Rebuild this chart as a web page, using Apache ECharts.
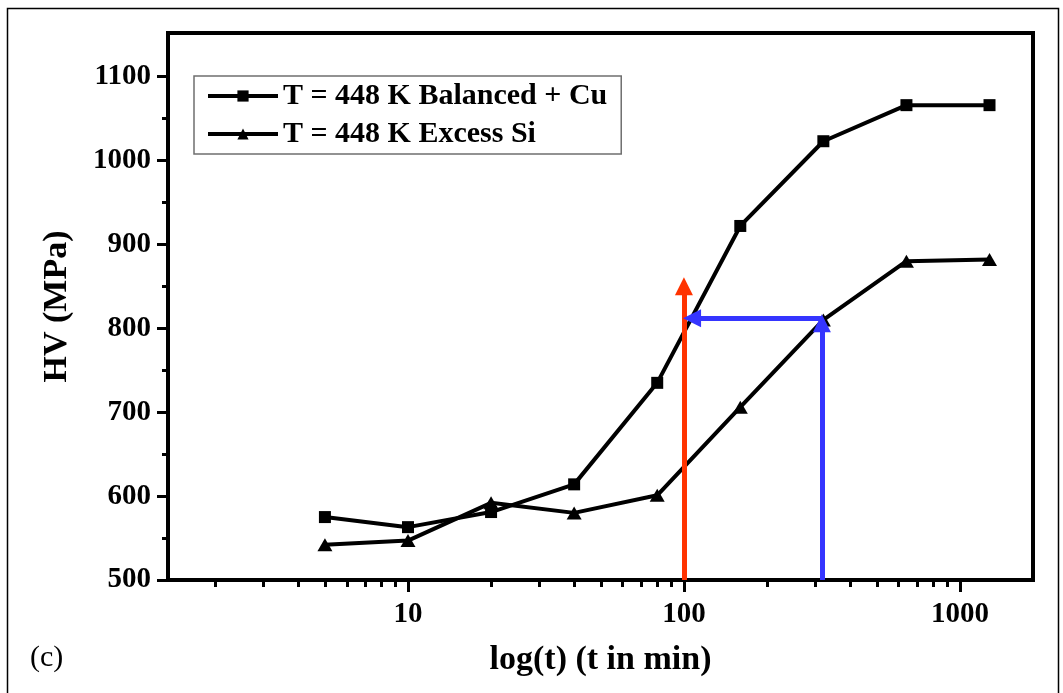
<!DOCTYPE html>
<html>
<head>
<meta charset="utf-8">
<script src="https://cdn.jsdelivr.net/npm/echarts@6/dist/echarts.min.js"></script>
<style>
html,body{margin:0;padding:0;background:#fff;}
#chart{width:1063px;height:693px;}
</style>
</head>
<body>
<div id="chart"></div>
<script>
// ---- data ----
const times = [5, 10, 20, 40, 80, 160, 320, 640, 1280];
const balancedCu = [575, 563, 581, 614, 735, 922, 1023, 1066, 1066];
const excessSi = [542, 547, 592, 580, 601, 706, 810, 880, 882];
const seriesNames = ['T = 448 K Balanced + Cu', 'T = 448 K Excess Si'];
const xMajorTicks = [10, 100, 1000];
const xMinorTicks = [2, 3, 4, 5, 6, 7, 8, 9, 20, 30, 40, 50, 60, 70, 80, 90, 200, 300, 400, 500, 600, 700, 800, 900];
const yMajorTicks = [500, 600, 700, 800, 900, 1000, 1100];
const yMinorTicks = [550, 650, 750, 850, 950, 1050];
const redArrow = [[100, 500], [100, 850]];
const blueVertical = [[316, 500], [316, 806]];
const blueHorizontal = [[316, 812], [107, 812]];

const FONT = 'Liberation Serif';
const xMin = 1.35, xMax = 1840, yMin = 500, yMax = 1152;

const toPairs = (xs, ys) => xs.map((x, i) => [x, ys[i]]);
const arrowLine = (pts) => [{ coord: pts[0] }, { coord: pts[1] }];
const plain = (v) => String(Math.round(v));

const chart = echarts.init(document.getElementById('chart'), null, { renderer: 'canvas' });
const gridRect = { left: 168, right: 30, top: 33, bottom: 113 };

chart.setOption({
  animation: false,
  backgroundColor: '#fff',
  grid: [
    Object.assign({ show: true, borderColor: '#000', borderWidth: 4, backgroundColor: 'transparent' }, gridRect),
    Object.assign({ show: false }, gridRect)
  ],
  legend: {
    data: seriesNames,
    orient: 'vertical',
    left: 194,
    top: 76,
    itemWidth: 70,
    itemHeight: 14,
    itemGap: 8,
    padding: [5, 14, 5, 12],
    borderColor: '#6f6f6f',
    borderWidth: 1.5,
    backgroundColor: '#fff',
    lineStyle: { width: 4, color: '#000' },
    textStyle: { fontFamily: FONT, fontWeight: 'bold', fontSize: 30, color: '#000', padding: [0, 0, 0, 0] }
  },
  xAxis: [
    {
      type: 'log', gridIndex: 0, min: xMin, max: xMax, position: 'bottom',
      axisLine: { lineStyle: { color: '#000', width: 4 } },
      axisTick: { customValues: xMajorTicks, length: 12, lineStyle: { color: '#000', width: 3 } },
      axisLabel: { customValues: xMajorTicks, formatter: plain, fontFamily: FONT, fontWeight: 'bold', fontSize: 29, color: '#000', margin: 20 },
      splitLine: { show: false },
      name: 'log(t) (t in min)', nameLocation: 'middle', nameGap: 63,
      nameTextStyle: { fontFamily: FONT, fontWeight: 'bold', fontSize: 34, color: '#000' }
    },
    {
      type: 'log', gridIndex: 1, min: xMin, max: xMax, position: 'bottom',
      axisLine: { show: false },
      axisTick: { customValues: xMinorTicks, length: 7, lineStyle: { color: '#000', width: 3 } },
      axisLabel: { show: false },
      splitLine: { show: false }
    }
  ],
  yAxis: [
    {
      type: 'value', gridIndex: 0, min: yMin, max: yMax,
      axisLine: { show: true, lineStyle: { color: '#000', width: 4 } },
      axisTick: { show: true, customValues: yMajorTicks, length: 11, lineStyle: { color: '#000', width: 3 } },
      axisLabel: { customValues: yMajorTicks, formatter: plain, fontFamily: FONT, fontWeight: 'bold', fontSize: 29, color: '#000', margin: 17 },
      splitLine: { show: false },
      name: 'HV (MPa)', nameLocation: 'middle', nameGap: 94,
      nameTextStyle: { fontFamily: FONT, fontWeight: 'bold', fontSize: 34, color: '#000' }
    },
    {
      type: 'value', gridIndex: 1, min: yMin, max: yMax,
      axisLine: { show: false },
      axisTick: { show: true, customValues: yMinorTicks, length: 6, lineStyle: { color: '#000', width: 3 } },
      axisLabel: { show: false },
      splitLine: { show: false }
    }
  ],
  series: [
    {
      name: seriesNames[0], type: 'line', xAxisIndex: 0, yAxisIndex: 0,
      data: toPairs(times, balancedCu),
      symbol: 'rect', symbolSize: 12,
      itemStyle: { color: '#000' },
      lineStyle: { color: '#000', width: 4 },
      z: 3
    },
    {
      name: seriesNames[1], type: 'line', xAxisIndex: 0, yAxisIndex: 0,
      data: toPairs(times, excessSi),
      symbol: 'triangle', symbolSize: [15, 13],
      itemStyle: { color: '#000' },
      lineStyle: { color: '#000', width: 4 },
      z: 3
    },
    {
      name: 'arrows', type: 'line', xAxisIndex: 0, yAxisIndex: 0,
      data: [], z: 5,
      markLine: {
        silent: true,
        symbol: ['none', 'triangle'],
        symbolSize: 18,
        label: { show: false },
        lineStyle: { type: 'solid', width: 5 },
        data: [
          arrowLine(redArrow),
          arrowLine(blueVertical),
          arrowLine(blueHorizontal)
        ].map((pair, i) => {
          const color = i === 0 ? '#ff3300' : '#3535ff';
          pair[0].lineStyle = { color: color, width: 5, type: 'solid' };
          pair[0].itemStyle = { color: color };
          pair[1].itemStyle = { color: color };
          return pair;
        })
      }
    }
  ],
  graphic: [
    {
      type: 'rect', left: 5, top: 6, silent: true,
      shape: { width: 1051, height: 686 },
      style: { fill: 'none', stroke: '#000', lineWidth: 1.5 }
    },
    {
      type: 'text', left: 30, top: 643,
      style: { text: '(c)', font: '30px "Liberation Serif"', fill: '#000' }
    }
  ]
});
</script>
</body>
</html>
